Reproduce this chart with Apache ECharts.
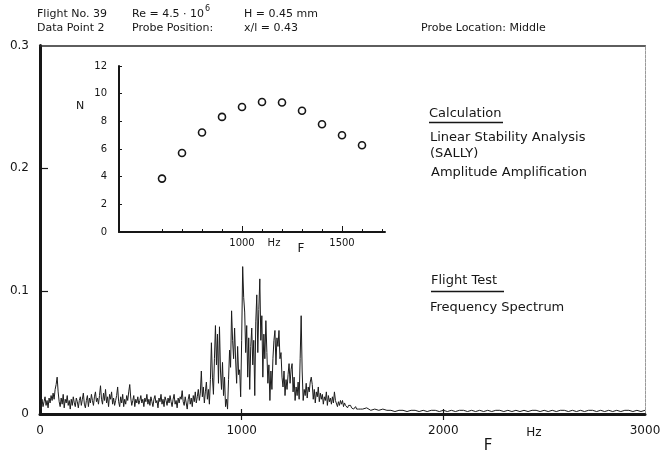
<!DOCTYPE html>
<html>
<head>
<meta charset="utf-8">
<script src="https://cdn.jsdelivr.net/npm/echarts@6/dist/echarts.min.js"></script>
<style>
  html, body { margin: 0; padding: 0; background: #fff; }
  #chart { width: 664px; height: 454px; }
</style>
</head>
<body>
<div id="chart"></div>
<script>
// Flight test frequency spectrum (amplitude vs frequency in Hz), three sampled segments
const lowStart = 0, lowStep = 5;
const spectrumLow = [
  0.008,0.004,0.012,0.006,0.010,0.014,0.007,0.011,0.005,0.013,
  0.009,0.015,0.011,0.017,0.012,0.020,0.024,0.030,0.018,0.010,
  0.006,0.013,0.008,0.016,0.005,0.012,0.009,0.015,0.007,0.011,
  0.004,0.012,0.007,0.014,0.009,0.006,0.013,0.010,0.005,0.011,
  0.014,0.007,0.012,0.017,0.008,0.005,0.011,0.015,0.006,0.013,
  0.009,0.016,0.011,0.007,0.014,0.018,0.010,0.013,0.008,0.015,
  0.023,0.012,0.008,0.017,0.011,0.020,0.009,0.014,0.006,0.016,
  0.012,0.018,0.008,0.013,0.007,0.011,0.015,0.022,0.010,0.006,
  0.014,0.009,0.016,0.006,0.012,0.008,0.015,0.011,0.018,0.024,
  0.013,0.007,0.011,0.015,0.006,0.012,0.009,0.014,0.008,0.011,
  0.015,0.009,0.012,0.006,0.013,0.010,0.016,0.008,0.012,0.007,
  0.014,0.010,0.006,0.012,0.015,0.009,0.011,0.005,0.013,0.010,
  0.016,0.008,0.012,0.006,0.014,0.011,0.007,0.013,0.009,0.015,
  0.010,0.006,0.012,0.016,0.008,0.011,0.005,0.013,0.009,0.014,
  0.012,0.019,0.010,0.007,0.014,0.009,0.004,0.012,0.016,0.008,
  0.013,0.006,0.015,0.010,0.018,0.009,0.014,0.020,0.011,0.017
];
const bandStart = 800, bandStep = 5;
const spectrumBand = [
  0.035,0.014,0.022,0.009,0.018,0.026,0.012,0.020,0.008,0.028,
  0.058,0.030,0.016,0.045,0.072,0.040,0.065,0.025,0.071,0.035,
  0.020,0.042,0.015,0.030,0.006,0.012,0.004,0.028,0.052,0.038,
  0.084,0.060,0.045,0.070,0.044,0.025,0.055,0.032,0.036,0.014,
  0.060,0.120,0.095,0.083,0.050,0.072,0.030,0.062,0.020,0.055,
  0.070,0.040,0.060,0.015,0.075,0.097,0.050,0.085,0.110,0.060,
  0.080,0.030,0.065,0.045,0.076,0.050,0.025,0.040,0.011,0.035,
  0.020,0.045,0.060,0.068,0.040,0.062,0.055,0.068,0.045,0.050,
  0.030,0.022,0.035,0.015,0.028,0.020,0.032,0.041,0.025,0.036,
  0.041,0.018,0.030,0.011,0.022,0.015,0.026,0.012,0.045,0.080,
  0.035,0.011,0.020,0.015,0.025,0.013,0.022,0.018,0.026,0.030,
  0.024,0.012,0.020,0.009,0.018,0.014,0.022,0.010,0.017,0.012,
  0.016,0.008,0.014,0.011,0.018,0.007,0.015,0.010,0.013,0.008,
  0.014,0.009,0.018,0.011,0.012,0.006,0.010,0.007,0.011,0.008,
  0.011,0.006,0.009,0.007,0.008,0.005,0.007,0.006,0.007,0.005,
  0.006,0.004,0.005,0.006,0.004,0.005,0.004,0.005,0.004,0.004
];
const tailStart = 1600, tailStep = 20;
const spectrumTail = [
  0.004,0.005,0.003,0.004,0.003,0.004,0.003,0.003,0.002,0.003,
  0.003,0.002,0.003,0.003,0.002,0.003,0.002,0.003,0.003,0.002,
  0.003,0.002,0.003,0.002,0.003,0.003,0.002,0.003,0.002,0.003,
  0.002,0.003,0.002,0.003,0.003,0.002,0.003,0.002,0.003,0.002,
  0.003,0.002,0.003,0.003,0.002,0.003,0.002,0.003,0.002,0.003,
  0.003,0.002,0.003,0.002,0.003,0.002,0.003,0.003,0.002,0.003,
  0.002,0.003,0.002,0.003,0.002,0.003,0.003,0.002,0.003,0.002,0.003
];

// Linear stability analysis (SALLY): amplitude amplification N per frequency
const calcFreq = [600, 700, 800, 900, 1000, 1100, 1200, 1300, 1400, 1500, 1600];
const calcN    = [3.86, 5.71, 7.19, 8.32, 9.04, 9.40, 9.36, 8.77, 7.79, 6.99, 6.27];

// Axis ticks
const mainXTicks = [0, 1000, 2000, 3000];
const mainYTicks = [0, 0.1, 0.2, 0.3];
const insetXTicks = [600, 700, 800, 900, 1000, 1100, 1200, 1300, 1400, 1500, 1600, 1700];
const insetXMajor = [1000, 1500];
const insetYTicks = [0, 2, 4, 6, 8, 10, 12];

const spectrum = [];
spectrumLow.forEach((v, i) => spectrum.push([lowStart + i * lowStep, v]));
spectrumBand.forEach((v, i) => spectrum.push([bandStart + i * bandStep, v]));
spectrumTail.forEach((v, i) => spectrum.push([tailStart + i * tailStep, v]));
const calcPoints = calcFreq.map((f, i) => [f, calcN[i]]);

const FONT = '"DejaVu Sans", "Liberation Sans", sans-serif';
const INK = '#161616';

function txt(text, x, y, size, align) {
  return {
    type: 'text', silent: true, z: 100,
    style: {
      text: text, x: x, y: y, fill: INK,
      font: size + 'px ' + FONT,
      align: align || 'left', verticalAlign: 'middle',
      textAlign: align || 'left', textVerticalAlign: 'middle'
    }
  };
}
function rule(x1, y1, x2, y2, w, color) {
  return {
    type: 'line', silent: true, z: 100,
    shape: { x1: x1, y1: y1, x2: x2, y2: y2 },
    style: { stroke: color || INK, lineWidth: w }
  };
}

// width of the Reynolds number text, so the exponent sits right after it
const measure = document.createElement('canvas').getContext('2d');
measure.font = '11px ' + FONT;
const reText = 'Re = 4.5 · 10';
const reWidth = measure.measureText(reText).width;

const chart = echarts.init(document.getElementById('chart'), null, { renderer: 'canvas' });

chart.setOption({
  animation: false,
  backgroundColor: '#ffffff',
  textStyle: { fontFamily: FONT, color: INK },
  grid: [
    { left: 40, top: 45.5, right: 19, bottom: 40 },
    { left: 119, top: 66, width: 266, height: 166 }
  ],
  xAxis: [
    { // main frequency axis
      gridIndex: 0, type: 'value', position: 'bottom',
      min: 0, max: 3000,
      axisLine: { show: true, onZero: false, lineStyle: { color: INK, width: 3 } },
      axisTick: { show: true, customValues: mainXTicks.slice(1, 3), length: 6, lineStyle: { color: INK, width: 1.2 } },
      axisLabel: { customValues: mainXTicks, fontSize: 12, margin: 11, color: INK, fontFamily: FONT,
                   formatter: v => String(v) },
      splitLine: { show: false }
    },
    { // top frame edge
      gridIndex: 0, type: 'value', position: 'top', min: 0, max: 3000,
      axisLine: { show: true, onZero: false, lineStyle: { color: '#2a2a2a', width: 1.5 } },
      axisTick: { show: false }, axisLabel: { show: false }, splitLine: { show: false }
    },
    { // inward part of the main frequency ticks
      gridIndex: 0, type: 'value', position: 'bottom', min: 0, max: 3000,
      axisLine: { show: false },
      axisTick: { show: true, inside: true, customValues: mainXTicks.slice(1, 3), length: 5, lineStyle: { color: INK, width: 1.2 } },
      axisLabel: { show: false }, splitLine: { show: false }
    },
    { // inset frequency axis
      gridIndex: 1, type: 'value', position: 'bottom', min: 385, max: 1715,
      axisLine: { show: true, onZero: false, lineStyle: { color: INK, width: 2 } },
      axisTick: { show: true, inside: true, customValues: insetXTicks, length: 3, lineStyle: { color: INK, width: 1 } },
      axisLabel: { customValues: insetXMajor, fontSize: 10, margin: 6, color: INK, fontFamily: FONT,
                   formatter: v => String(v) },
      splitLine: { show: false }
    },
    { // longer marks at labelled inset frequencies
      gridIndex: 1, type: 'value', position: 'bottom', min: 385, max: 1715,
      axisLine: { show: false },
      axisTick: { show: true, inside: true, customValues: insetXMajor, length: 6, lineStyle: { color: INK, width: 1 } },
      axisLabel: { show: false }, splitLine: { show: false }
    }
  ],
  yAxis: [
    { // main amplitude axis
      gridIndex: 0, type: 'value', position: 'left',
      min: 0, max: 0.3, interval: 0.1,
      axisLine: { show: true, onZero: false, lineStyle: { color: INK, width: 3 } },
      axisTick: { show: true, inside: true, customValues: mainYTicks.slice(1, 3), length: 8, lineStyle: { color: INK, width: 1.2 } },
      axisLabel: {
        customValues: mainYTicks, fontSize: 12, margin: 11, color: INK, fontFamily: FONT,
        formatter: v => (v === 0 ? '0' : v.toFixed(1))
      },
      splitLine: { show: false }
    },
    { // right frame edge
      gridIndex: 0, type: 'value', position: 'right', min: 0, max: 0.3,
      axisLine: { show: true, onZero: false, lineStyle: { color: '#9a9a9a', width: 1, type: [3, 1] } },
      axisTick: { show: false }, axisLabel: { show: false }, splitLine: { show: false }
    },
    { // inset N axis
      gridIndex: 1, type: 'value', position: 'left', min: 0, max: 12, interval: 2,
      axisLine: { show: true, onZero: false, lineStyle: { color: INK, width: 2 } },
      axisTick: { show: true, inside: true, customValues: insetYTicks.slice(1), length: 3, lineStyle: { color: INK, width: 1 } },
      axisLabel: { customValues: insetYTicks, fontSize: 10, margin: 12, color: INK, fontFamily: FONT },
      splitLine: { show: false }
    }
  ],
  series: [
    {
      name: 'Frequency Spectrum', type: 'line',
      xAxisIndex: 0, yAxisIndex: 0,
      data: spectrum, showSymbol: false, symbol: 'none',
      lineStyle: { color: '#1c1c1c', width: 1 },
      z: 5
    },
    {
      name: 'Amplitude Amplification', type: 'scatter',
      xAxisIndex: 3, yAxisIndex: 2,
      data: calcPoints, symbol: 'circle', symbolSize: 7,
      itemStyle: { color: '#ffffff', borderColor: INK, borderWidth: 1.6, opacity: 1 },
      z: 6
    }
  ],
  graphic: [
    // header block
    txt('Flight No. 39', 37, 14, 11),
    txt('Data Point 2', 37, 28, 11),
    txt(reText, 132, 14, 11),
    txt('6', 132 + reWidth + 1, 9, 8),
    txt('Probe Position:', 132, 28, 11),
    txt('H = 0.45 mm', 244, 14, 11),
    txt('x/l = 0.43', 244, 28, 11),
    txt('Probe Location: Middle', 421, 28, 11),
    // axis names
    txt('Hz', 534, 433, 12, 'center'),
    txt('F', 488, 446, 15, 'center'),
    txt('N', 80, 106, 11, 'center'),
    txt('Hz', 274, 243, 10, 'center'),
    txt('F', 301, 249, 12, 'center'),
    // descriptions
    txt('Calculation', 429, 114, 13),
    rule(429, 122.5, 503, 122.5, 1.5),
    txt('Linear Stability Analysis', 430, 138, 13),
    txt('(SALLY)', 430, 154, 13),
    txt('Amplitude Amplification', 431, 173, 13),
    txt('Flight Test', 431, 281, 13),
    rule(431, 291.5, 504, 291.5, 1.5),
    txt('Frequency Spectrum', 430, 308, 13)
  ]
});
</script>
</body>
</html>
